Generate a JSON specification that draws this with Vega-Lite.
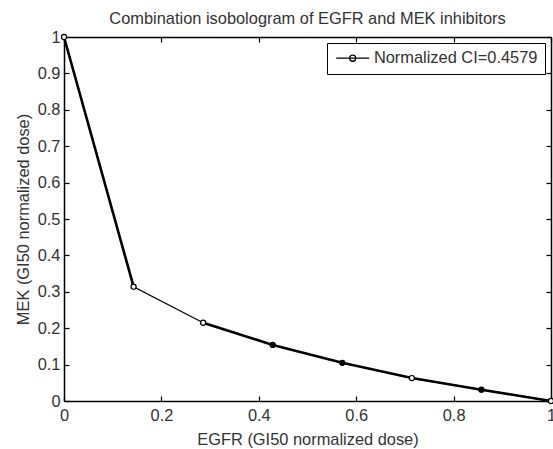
{
  "$schema": "https://vega.github.io/schema/vega-lite/v6.json",
  "width": 487,
  "height": 364,
  "autosize": "none",
  "padding": {"left": 64, "top": 37, "right": 2, "bottom": 48},
  "background": "white",
  "title": {
    "text": "Combination isobologram of EGFR and MEK inhibitors",
    "font": "Liberation Sans",
    "fontSize": 16.4,
    "fontWeight": "normal",
    "color": "#333333",
    "anchor": "middle",
    "baseline": "alphabetic",
    "offset": -11
  },
  "datasets": {
    "curve": [
      {"egfr": 0, "mek": 1, "series": "Normalized CI=0.4579"},
      {"egfr": 0.1429, "mek": 0.314, "series": "Normalized CI=0.4579"},
      {"egfr": 0.2857, "mek": 0.215, "series": "Normalized CI=0.4579"},
      {"egfr": 0.4286, "mek": 0.154, "series": "Normalized CI=0.4579"},
      {"egfr": 0.5714, "mek": 0.105, "series": "Normalized CI=0.4579"},
      {"egfr": 0.7143, "mek": 0.063, "series": "Normalized CI=0.4579"},
      {"egfr": 0.8571, "mek": 0.031, "series": "Normalized CI=0.4579"},
      {"egfr": 1, "mek": 0, "series": "Normalized CI=0.4579"}
    ],
    "overlap": [
      {"egfr": 0, "mek": 1, "segment": "a"},
      {"egfr": 0.1429, "mek": 0.314, "segment": "a"},
      {"egfr": 0.2857, "mek": 0.215, "segment": "b"},
      {"egfr": 0.4286, "mek": 0.154, "segment": "b"},
      {"egfr": 0.5714, "mek": 0.105, "segment": "b"},
      {"egfr": 0.7143, "mek": 0.063, "segment": "b"},
      {"egfr": 0.8571, "mek": 0.031, "segment": "b"},
      {"egfr": 1, "mek": 0, "segment": "b"}
    ],
    "dense": [
      {"egfr": 0.4286, "mek": 0.154},
      {"egfr": 0.5714, "mek": 0.105},
      {"egfr": 0.8571, "mek": 0.031}
    ]
  },
  "config": {
    "view": {"stroke": null},
    "axis": {
      "grid": false,
      "minExtent": 0,
      "domainColor": "black",
      "domainWidth": 1.5,
      "tickColor": "black",
      "tickWidth": 1.2,
      "tickSize": -5,
      "labelFont": "Liberation Sans",
      "labelFontSize": 16.4,
      "labelColor": "#333333",
      "labelOverlap": false,
      "labelFlush": false,
      "labelBound": false,
      "titleFont": "Liberation Sans",
      "titleFontSize": 16.4,
      "titleFontWeight": "normal",
      "titleColor": "#333333"
    }
  },
  "layer": [
    {
      "encoding": {
        "x": {
          "field": "egfr", "type": "quantitative",
          "scale": {"domain": [0, 1], "nice": false},
          "axis": {
            "orient": "bottom",
            "values": [0, 0.2, 0.4, 0.6, 0.8, 1],
            "tickCount": 20,
            "format": "~g",
            "labelPadding": 11,
            "title": "EGFR (GI50 normalized dose)",
            "titlePadding": 8
          }
        },
        "y": {
          "field": "mek", "type": "quantitative",
          "scale": {"domain": [0, 1], "nice": false},
          "axis": {
            "orient": "left",
            "values": [0, 0.1, 0.2, 0.3, 0.4, 0.5, 0.6, 0.7, 0.8, 0.9, 1],
            "tickCount": 20,
            "format": "~g",
            "labelPadding": 9,
            "title": "MEK (GI50 normalized dose)",
            "titlePadding": 6
          }
        }
      },
      "layer": [
        {
          "data": {"name": "curve"},
          "mark": {"type": "line", "strokeWidth": 1.3},
          "encoding": {
            "stroke": {
              "field": "series", "type": "nominal",
              "scale": {"range": ["black"]},
              "legend": {
                "title": null,
                "orient": "top-right",
                "offset": 6,
                "fillColor": "white",
                "strokeColor": "black",
                "padding": 7,
                "symbolType": "M-3,0H3M-0.55,0A0.55,0.55 0 1,0 0.55,0A0.55,0.55 0 1,0 -0.55,0",
                "symbolSize": 121,
                "symbolStrokeWidth": 1.3,
                "symbolStrokeColor": "black",
                "symbolFillColor": "white",
                "symbolOffset": 10.5,
                "labelOffset": 13,
                "labelFont": "Liberation Sans",
                "labelFontSize": 16.4,
                "labelColor": "#333333",
                "labelLimit": 400,
                "encode": {
                  "symbols": {"update": {"fill": {"value": "white"}, "stroke": {"value": "black"}, "strokeWidth": {"value": 1.3}, "opacity": {"value": 1}}}
                }
              }
            }
          }
        },
        {
          "data": {"name": "overlap"},
          "mark": {"type": "line", "strokeWidth": 2.6, "color": "black"},
          "encoding": {
            "detail": {"field": "segment", "type": "nominal"}
          }
        },
        {
          "data": {"name": "curve"},
          "mark": {"type": "point", "shape": "circle", "size": 26, "filled": false, "fill": "white", "stroke": "black", "strokeWidth": 1.2, "opacity": 1}
        },
        {
          "data": {"name": "dense"},
          "mark": {"type": "point", "shape": "circle", "size": 30, "filled": true, "color": "black", "opacity": 1}
        }
      ]
    },
    {
      "data": {"name": "curve"},
      "mark": {"type": "point", "opacity": 0},
      "encoding": {
        "x": {
          "field": "egfr", "type": "quantitative",
          "scale": {"domain": [0, 1], "nice": false},
          "axis": {"orient": "top", "values": [0, 0.2, 0.4, 0.6, 0.8, 1], "tickCount": 20, "labels": false, "title": null}
        },
        "y": {
          "field": "mek", "type": "quantitative",
          "scale": {"domain": [0, 1], "nice": false},
          "axis": {"orient": "right", "values": [0, 0.1, 0.2, 0.3, 0.4, 0.5, 0.6, 0.7, 0.8, 0.9, 1], "tickCount": 20, "labels": false, "title": null}
        }
      }
    }
  ],
  "resolve": {"axis": {"x": "independent", "y": "independent"}}
}
